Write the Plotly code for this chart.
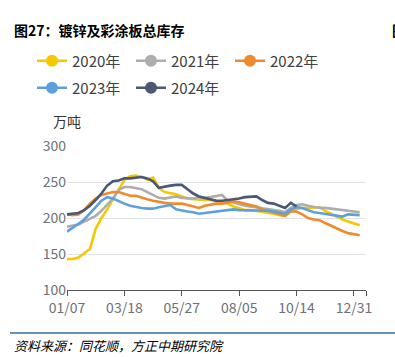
import plotly.graph_objects as go

W, H = 395, 357

tick_labels = ["01/07", "03/18", "05/27", "08/05", "10/14", "12/31"]
tick_pos = [0, 10, 20, 30, 40, 50]
y_ticks = [100, 150, 200, 250, 300]

names = ["2020年", "2021年", "2022年", "2023年", "2024年"]
colors = ["#F5C800", "#ADADAD", "#F08A2E", "#5DA0DD", "#4A5874"]

s2020 = [143, 143, 145, 151, 157, 185, 200, 212, 226, 241, 253, 258, 259, 257, 253, 256, 242, 236, 235, 233,
         230, 227, 226, 225, 225, 225, 223, 222, 220, 216, 213, 211, 211, 210, 209, 208, 206, 204, 203, 211,
         213, 214, 214, 214, 215, 210, 206, 201, 198, 195, 192, 190]
s2021 = [188, 189, 191, 195, 199, 203, 210, 219, 227, 239, 243, 243, 242, 240, 236, 232, 228, 227, 228, 230,
         228, 227, 227, 229, 228, 229, 231, 232, 224, 221, 219, 217, 216, 214, 213, 212, 211, 210, 208, 214,
         218, 219, 217, 215, 214, 214, 213, 212, 211, 209, 208, 208]
s2022 = [205, 204, 205, 211, 220, 227, 232, 234, 236, 236, 233, 231, 231, 228, 226, 224, 222, 221, 220, 220,
         220, 218, 216, 214, 217, 219, 220, 220, 222, 223, 222, 220, 218, 216, 212, 210, 207, 205, 203, 209,
         209, 205, 200, 198, 197, 193, 189, 186, 182, 179, 177, 176]
s2023 = [181, 186, 192, 198, 206, 215, 224, 229, 227, 223, 220, 217, 215, 214, 213, 213, 215, 217, 218, 212,
         210, 209, 208, 206, 207, 208, 209, 211, 211, 212, 211, 211, 211, 211, 210, 210, 209, 208, 206, 212,
         215, 214, 211, 208, 207, 206, 204, 203, 202, 205, 205, 204]
s2024 = [205, 206, 207, 211, 217, 225, 234, 245, 251, 252, 255, 255, 256, 257, 255, 251, 242, 244, 245, 246,
         246, 240, 234, 230, 228, 226, 224, 224, 225, 225, 227, 229, 230, 230, 225, 221, 220, 217, 214, 221,
         216]
series = [s2020, s2021, s2022, s2023, s2024]

font_cjk = "Noto Sans CJK SC, Noto Sans, sans-serif"

fig = go.Figure()
for nm, col, s in zip(names, colors, series):
    fig.add_trace(go.Scatter(x=list(range(len(s))), y=s, mode="lines", name=nm,
                             line=dict(color=col, width=2.6), showlegend=False,
                             hoverinfo="skip"))

# legend entries: one legend per entry for exact placement
leg_x = [32, 131, 230, 32, 131]
leg_y = [61, 61, 61, 88, 88]
legend_layout = {}
for k, (nm, col) in enumerate(zip(names, colors)):
    lname = "legend" if k == 0 else f"legend{k + 1}"
    fig.add_trace(go.Scatter(x=[None], y=[None], mode="lines+markers", name=nm,
                             line=dict(color=col, width=2.6),
                             marker=dict(color=col, size=12, symbol="circle"),
                             legend=lname))
    legend_layout[lname] = dict(orientation="h", xref="container", yref="container",
                                x=leg_x[k] / W, y=1 - leg_y[k] / H,
                                xanchor="left", yanchor="middle",
                                font=dict(size=15, color="#404040", family=font_cjk),
                                bgcolor="rgba(0,0,0,0)", borderwidth=0, itemwidth=30)

pl, pr, pt, pb = 67, 29, 146, 67
fig.update_layout(
    width=W, height=H,
    margin=dict(l=pl, r=pr, t=pt, b=pb, autoexpand=False),
    paper_bgcolor="white", plot_bgcolor="white",
    xaxis=dict(range=[0, 52.1], tickvals=tick_pos + [52.1], ticktext=tick_labels + [""],
               showgrid=False, zeroline=False, showline=True, linecolor="#555555", linewidth=1.2,
               ticks="outside", ticklen=5, tickcolor="#555555", tickwidth=1.2,
               tickfont=dict(size=14, color="#6E7079", family=font_cjk)),
    yaxis=dict(range=[100, 300], tickvals=y_ticks, showgrid=True, gridcolor="#E0E3EA", gridwidth=1,
               zeroline=False, showline=False, ticks="",
               tickfont=dict(size=14, color="#6E7079", family=font_cjk)),
    **legend_layout,
)

pw, ph = W - pl - pr, H - pt - pb
def px(x):
    return (x - pl) / pw
def py(y):
    return (H - pb - y) / ph

fig.add_annotation(text="<b>图27：镀锌及彩涂板总库存</b>", xref="paper", yref="paper", x=px(12), y=py(30),
                   xanchor="left", yanchor="middle", showarrow=False,
                   font=dict(size=14, color="#000000", family=font_cjk))
fig.add_annotation(text="<b>图</b>", xref="paper", yref="paper", x=px(390), y=py(30),
                   xanchor="left", yanchor="middle", showarrow=False,
                   font=dict(size=14, color="#000000", family=font_cjk))
fig.add_annotation(text="万吨", xref="paper", yref="paper", x=px(51), y=py(121),
                   xanchor="left", yanchor="middle", showarrow=False,
                   font=dict(size=14, color="#333333", family=font_cjk))
fig.add_annotation(text="<i>资料来源：同花顺，方正中期研究院</i>", xref="paper", yref="paper", x=px(12), y=py(345),
                   xanchor="left", yanchor="middle", showarrow=False,
                   font=dict(size=13, color="#000000", family=font_cjk))
fig.add_shape(type="line", xref="paper", yref="paper", x0=px(10), x1=px(400), y0=py(333), y1=py(333),
              line=dict(color="#2F6EA8", width=1.5))

fig.write_html("out.html", config={"displayModeBar": False},
               post_script="document.body.style.margin='0';document.body.style.overflow='hidden';")
